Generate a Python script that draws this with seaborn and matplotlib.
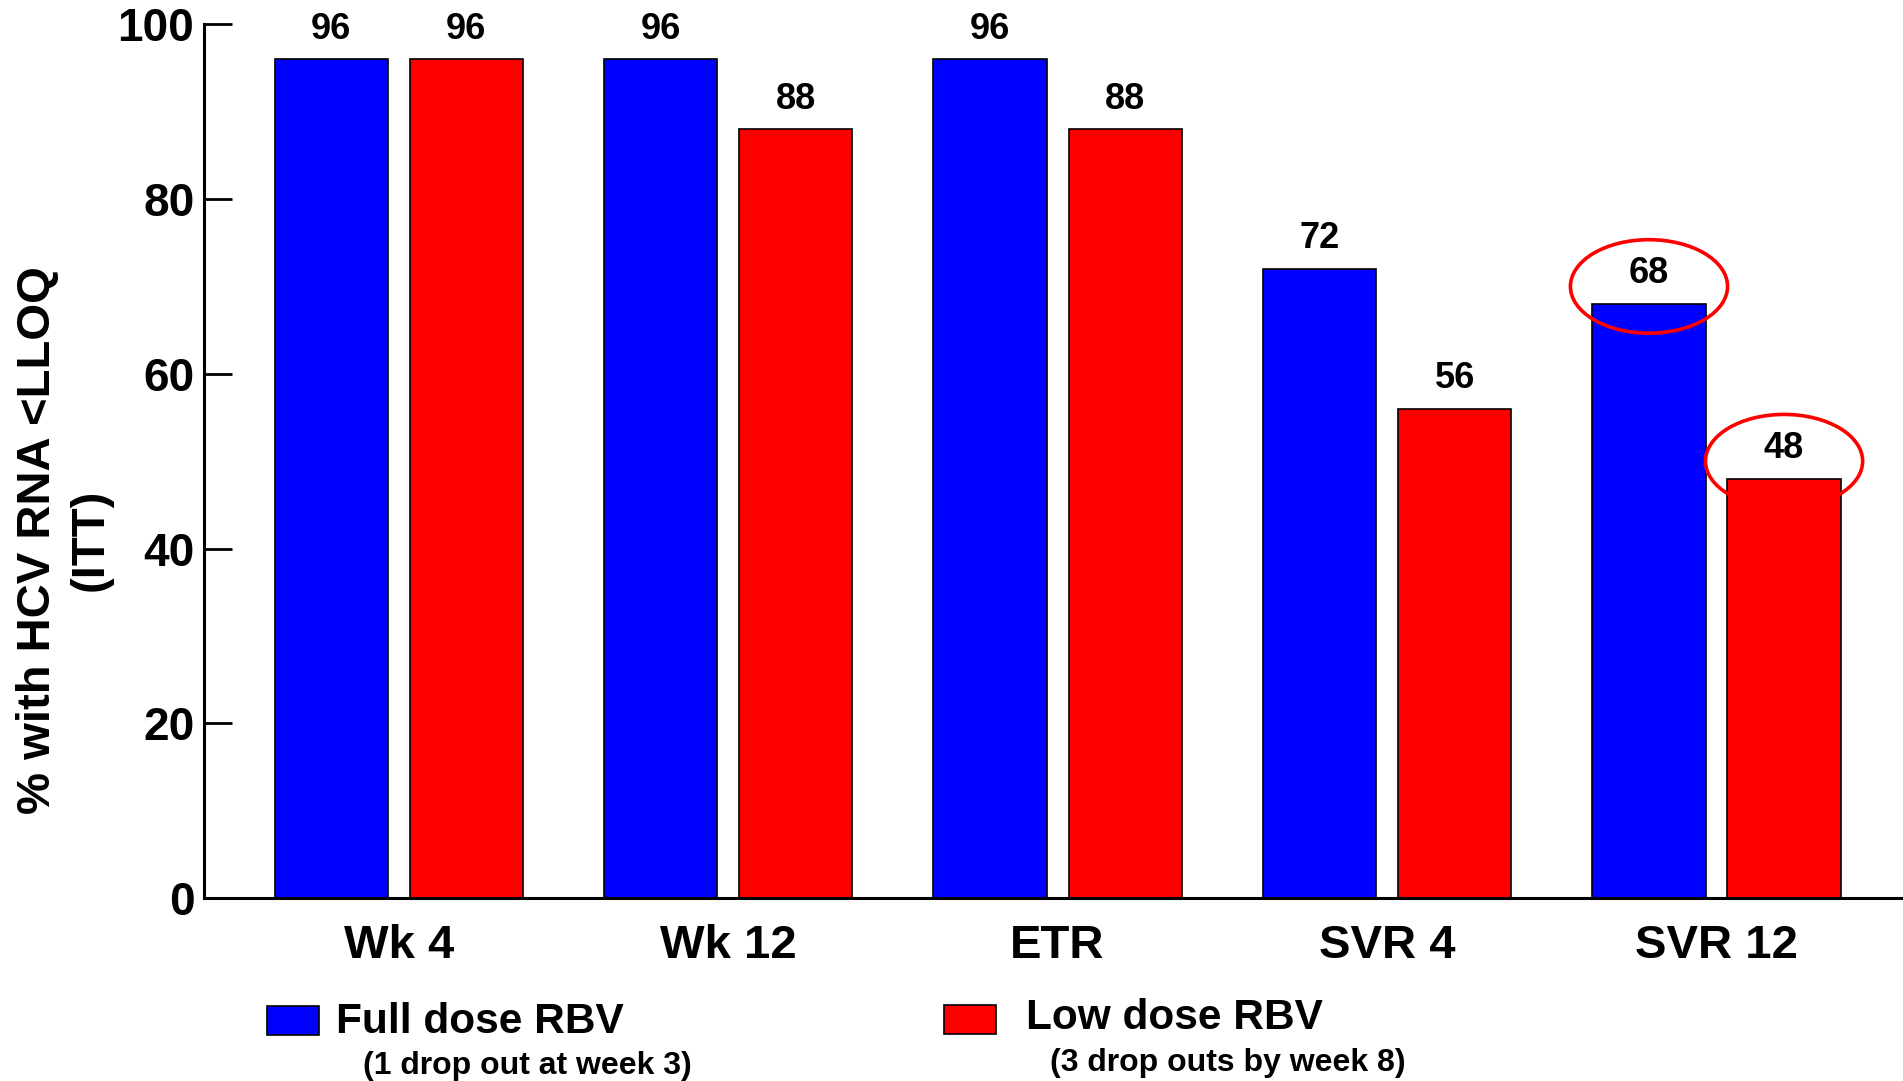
import matplotlib
matplotlib.use("Agg")
import matplotlib.pyplot as plt
from matplotlib.patches import Ellipse, Rectangle
import seaborn as sns
import pandas as pd

# Response rates by timepoint for the two ribavirin arms
timepoints = ["Wk 4", "Wk 12", "ETR", "SVR 4", "SVR 12"]
full_dose = [96, 96, 96, 72, 68]
low_dose = [96, 88, 88, 56, 48]
arm_names = ["Full dose RBV", "Low dose RBV"]
arm_notes = ["(1 drop out at week 3)", "(3 drop outs by week 8)"]
arm_colors = ["#0000ff", "#ff0000"]
circled = ["SVR 12"]
y_ticks = [0, 20, 40, 60, 80, 100]
y_label = "% with HCV RNA <LLOQ\n(ITT)"

df = pd.DataFrame({
    "timepoint": timepoints * 2,
    "pct": full_dose + low_dose,
    "arm": [arm_names[0]] * len(timepoints) + [arm_names[1]] * len(timepoints),
})

sns.set_style("white")
plt.rcParams["font.family"] = ["Liberation Sans", "DejaVu Sans"]
plt.rcParams["font.weight"] = "bold"
plt.rcParams["text.color"] = "black"
plt.rcParams["axes.labelcolor"] = "black"
plt.rcParams["xtick.color"] = "black"
plt.rcParams["ytick.color"] = "black"

fig = plt.figure(figsize=(19.03, 10.81), dpi=100)
ax = fig.add_axes([0.1072, 0.1693, 0.8928, 0.8082])

sns.barplot(
    data=df, x="timepoint", y="pct", hue="arm",
    order=timepoints, hue_order=arm_names, palette=arm_colors,
    width=0.82, gap=0.162, saturation=1, errorbar=None,
    edgecolor="black", linewidth=1.2, legend=False, ax=ax,
)

ax.set_xlim(-0.591, 4.566)
ax.set_ylim(0, 100)
ax.set_yticks(y_ticks)
ax.set_xlabel("")
ax.set_ylabel(y_label, fontsize=34, fontweight="bold", linespacing=1.25, color="black")
ax.yaxis.set_label_coords(-0.0824, 0.41)
ax.yaxis.label.set_verticalalignment("center")

for side in ["top", "right"]:
    ax.spines[side].set_visible(False)
for side in ["left", "bottom"]:
    ax.spines[side].set_linewidth(2.2)
    ax.spines[side].set_color("black")

ax.tick_params(axis="y", direction="in", length=20, width=2, pad=7,
               labelsize=33, colors="black", left=True)
ax.tick_params(axis="x", length=0, pad=19, labelsize=34, colors="black")
for lab in ax.get_xticklabels() + ax.get_yticklabels():
    lab.set_fontweight("bold")
    lab.set_color("black")

# Value labels above each bar
for cont in ax.containers:
    ax.bar_label(cont, fmt="%d", padding=9, fontsize=26, fontweight="bold", color="black")

# Red rings highlighting the final timepoint
for name in circled:
    idx = timepoints.index(name)
    for cont in ax.containers:
        for bar in cont:
            cx = bar.get_x() + bar.get_width() / 2
            if round(cx) == idx:
                ax.add_patch(Ellipse((cx, bar.get_height() + 2.0), width=0.477, height=10.7,
                                     fill=False, edgecolor="#ff0000", linewidth=2.6,
                                     clip_on=False, zorder=5))

# Legend with notes beneath each entry
patch_x = [0.1403, 0.496]
patch_y = [0.0426, 0.0435]
name_x = [0.1767, 0.539]
name_y = [0.0546, 0.0583]
note_x = [0.1906, 0.5517]
note_y = [0.0143, 0.0167]
for i in range(len(arm_names)):
    fig.patches.append(Rectangle((patch_x[i], patch_y[i]), 0.0274, 0.0268,
                                 transform=fig.transFigure, facecolor=arm_colors[i],
                                 edgecolor="black", linewidth=1.2))
    fig.text(name_x[i], name_y[i], arm_names[i], fontsize=30.5, fontweight="bold",
             ha="left", va="center", color="black")
    fig.text(note_x[i], note_y[i], arm_notes[i], fontsize=23, fontweight="bold",
             ha="left", va="center", color="black")

fig.savefig("out.png", dpi=100)
